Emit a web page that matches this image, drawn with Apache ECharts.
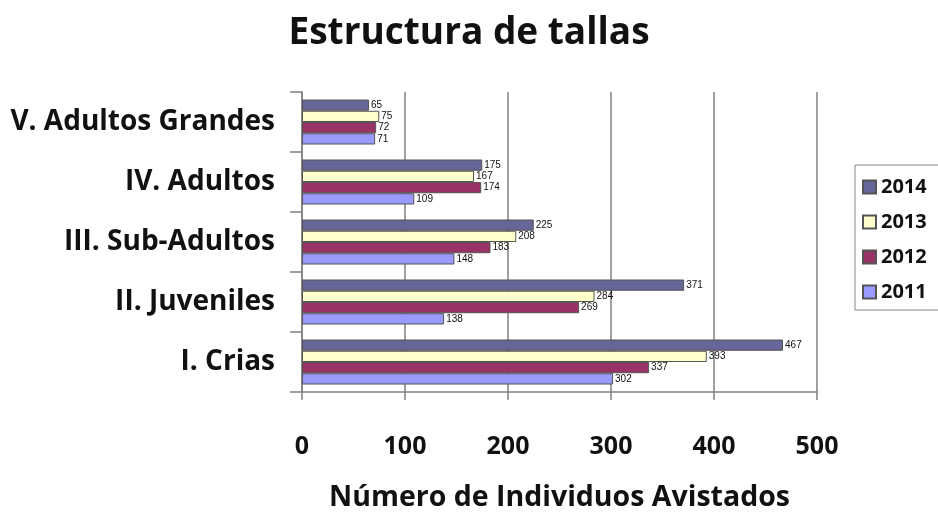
<!DOCTYPE html>
<html>
<head>
<meta charset="utf-8">
<script src="https://cdn.jsdelivr.net/npm/echarts@6/dist/echarts.min.js"></script>
<style>html,body{margin:0;padding:0;background:#fff}#c{width:938px;height:513px}</style>
</head>
<body>
<div id="c"></div>
<script>
const categories = ['I. Crias', 'II. Juveniles', 'III. Sub-Adultos', 'IV. Adultos', 'V. Adultos Grandes'];
const seriesNames = ['2014', '2013', '2012', '2011'];
const values2011 = [302, 138, 148, 109, 71];
const values2012 = [337, 269, 183, 174, 72];
const values2013 = [393, 284, 208, 167, 75];
const values2014 = [467, 371, 225, 175, 65];
const xTicks = [0, 100, 200, 300, 400, 500];
const legendOrder = ['2014', '2013', '2012', '2011'];

const colors = {'2011': '#9999FF', '2012': '#993366', '2013': '#FFFFCC', '2014': '#666699'};
const dataBySeries = {'2011': values2011, '2012': values2012, '2013': values2013, '2014': values2014};
const FONT = '"Open Sans", sans-serif';

const chart = echarts.init(document.getElementById('c'), null, {renderer: 'canvas'});
chart.setOption({
  animation: false,
  title: {
    text: 'Estructura de tallas',
    left: 'center',
    top: 10,
    textStyle: {fontFamily: FONT, fontSize: 37, fontWeight: 'bold', color: '#111'}
  },
  legend: {
    data: legendOrder,
    orient: 'vertical',
    left: 855,
    top: 165,
    padding: [12, 20, 8, 7],
    itemGap: 15,
    itemWidth: 13,
    itemHeight: 13,
    icon: 'rect',
    borderColor: '#888',
    borderWidth: 1,
    textStyle: {fontFamily: FONT, fontSize: 20, fontWeight: 'bold', color: '#111'}
  },
  grid: {left: 302, right: 121, top: 92, bottom: 121, outerBoundsMode: 'none', containLabel: false},
  xAxis: {
    type: 'value',
    min: xTicks[0],
    max: xTicks[xTicks.length - 1],
    interval: 100,
    name: 'Número de Individuos Avistados',
    nameLocation: 'middle',
    nameGap: 91,
    nameTextStyle: {fontFamily: FONT, fontSize: 28.5, fontWeight: 'bold', color: '#111'},
    axisLine: {show: true, lineStyle: {color: '#808080', width: 1.5}},
    axisTick: {show: true, length: 8, lineStyle: {color: '#808080', width: 1.5}},
    axisLabel: {margin: 42, fontFamily: FONT, fontSize: 25, fontWeight: 'bold', color: '#111'},
    splitLine: {show: true, lineStyle: {color: '#808080', width: 1.5}}
  },
  yAxis: {
    type: 'category',
    data: categories,
    axisLine: {show: true, lineStyle: {color: '#808080', width: 1.5}},
    axisTick: {show: true, length: 12, lineStyle: {color: '#808080', width: 1.5}},
    axisLabel: {margin: 27, fontFamily: FONT, fontSize: 28, fontWeight: 'bold', color: '#111'},
    splitLine: {show: false}
  },
  series: seriesNames.map(n => ({
    name: n,
    type: 'bar',
    data: dataBySeries[n],
    barGap: '0%',
    barCategoryGap: '25%',
    itemStyle: {color: colors[n], borderColor: '#555', borderWidth: 1},
    label: {show: true, position: 'right', distance: 2, fontSize: 10, fontFamily: 'Arial, sans-serif', color: '#111'}
  }))
});
</script>
</body>
</html>
